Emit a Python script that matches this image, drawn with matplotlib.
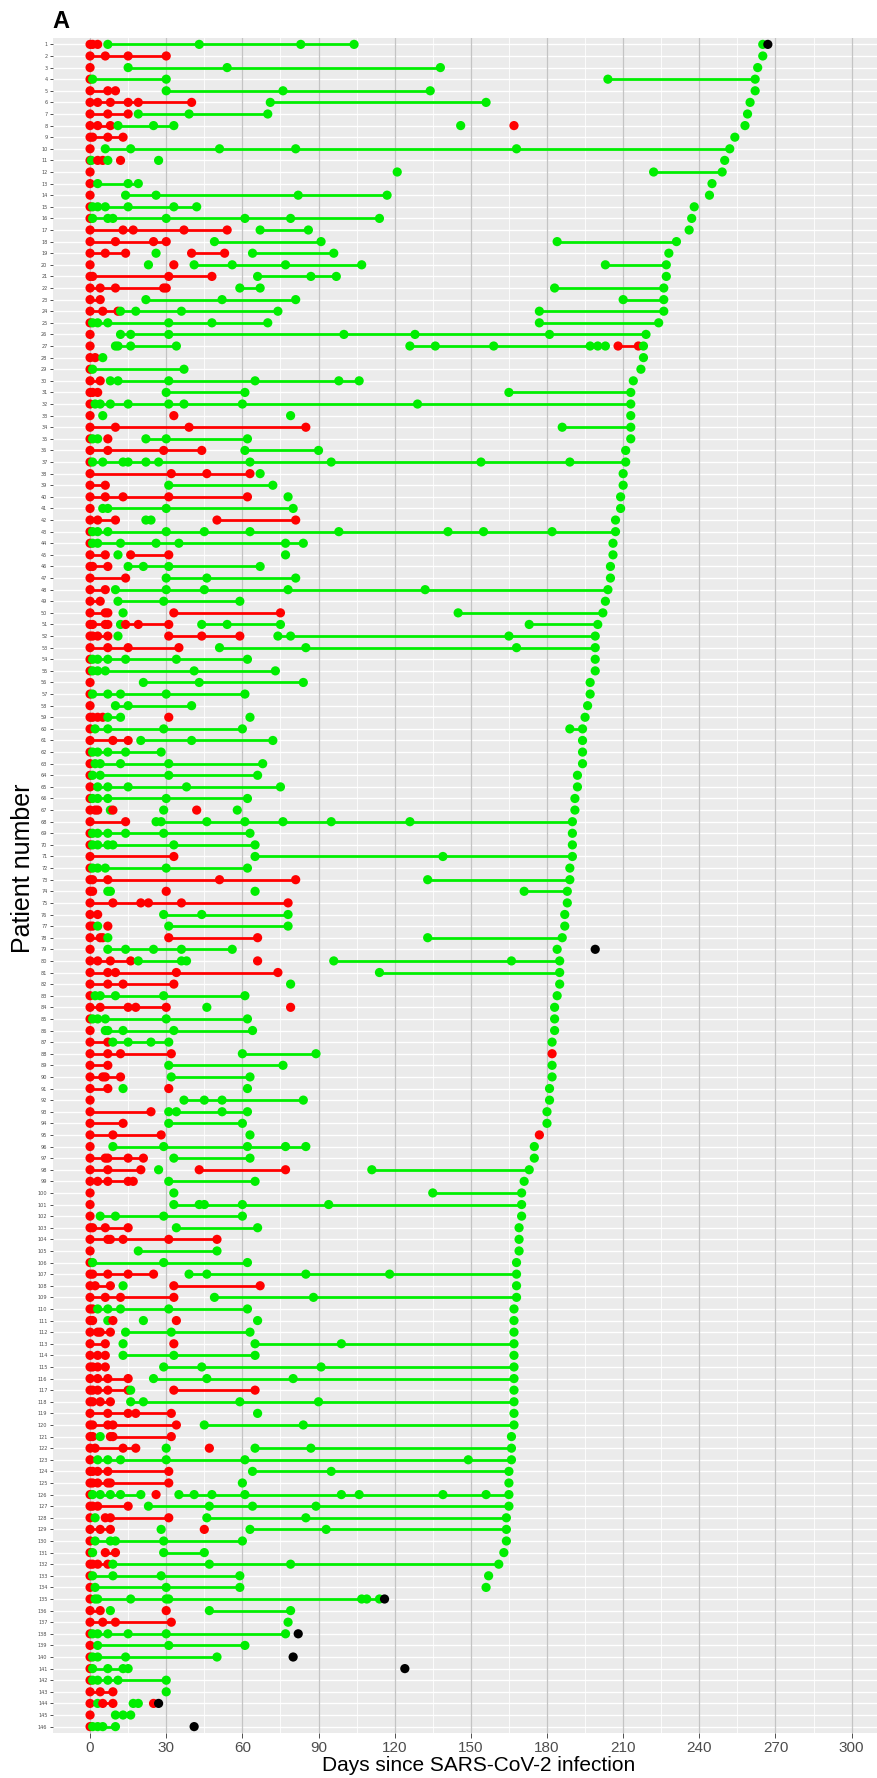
import matplotlib
matplotlib.use("Agg")
import matplotlib.pyplot as plt
import numpy as np

patients = list(range(1, 147))

test_days = [
    [0,1,3,7,43,83,104,265,267],
    [0,6,15,30,265],
    [0,15,54,138,263],
    [0,1,30,204,262],
    [0,7,10,30,76,134,262],
    [0,3,8,15,19,40,71,156,260],
    [0,7,15,19,39,70,259],
    [0,3,8,11,25,33,146,167,258],
    [0,1,7,13,254],
    [0,6,16,51,81,168,252],
    [0,0.5,3,5,7,12,27,250],
    [0,121,222,249],
    [0,3,15,19,245],
    [0,14,26,82,117,244],
    [0,1,3,6,15,33,42,238],
    [0,1,7,9,30,61,79,114,237],
    [0,13,17,37,54,67,86,236],
    [0,10,25,30,49,91,184,231],
    [0,6,14,26,40,53,64,96,228],
    [0,23,33,41,56,77,107,203,227],
    [0,1,31,48,66,87,97,227],
    [0,4,10,29,30,59,67,183,226],
    [0,4,22,52,81,210,226],
    [0,5,11,12,18,36,74,177,226],
    [0,1,3,7,31,48,70,177,224],
    [0,12,16,31,100,128,181,219],
    [0,10,11,16,34,126,136,159,197,200,203,208,216,218],
    [0,2,5,218],
    [0,1,37,217],
    [0,4,8,11,31,65,98,106,214],
    [0,1,3,30,61,165,213],
    [0,2,4,8,15,31,37,60,129,213],
    [0,5,33,79,213],
    [0,10,39,85,186,213],
    [0,1,3,7,22,30,62,213],
    [0,7,29,44,61,90,211],
    [0,1,5,13,15,22,27,63,95,154,189,211],
    [0,32,46,63,67,210],
    [0,6,31,72,210],
    [0,6,13,31,62,78,209],
    [0,5,7,30,80,209],
    [0,3,10,22,24,50,81,207],
    [0,1,3,7,30,45,63,98,141,155,182,207],
    [0,1,3,12,26,35,77,84,206],
    [0,6,11,16,31,77,206],
    [0,1,7,15,21,31,67,205],
    [0,14,30,46,81,205],
    [0,6,10,30,45,78,132,204],
    [0,4,11,29,59,203],
    [0,6,7,13,33,75,145,202],
    [0,1,6,7,12,14,19,31,44,54,75,173,200],
    [0,1,3,7,11,31,44,59,74,79,165,199],
    [0,7,15,35,51,85,168,199],
    [0,1,3,7,14,34,62,199],
    [0,1,3,6,41,73,199],
    [0,21,43,84,197],
    [0,1,7,12,30,61,197],
    [0,10,15,40,196],
    [0,1,3,5,7,12,31,63,195],
    [0,2,7,29,60,189,194],
    [0,9,15,20,40,72,194],
    [0,1,3,7,14,28,194],
    [0,2,4,12,31,68,194],
    [0,1,4,31,66,192],
    [0,3,7,15,38,75,192],
    [0,1,3,7,30,62,191],
    [0,2,3,8,9,29,42,58,191],
    [0,14,26,28,46,61,76,95,126,190],
    [0,1,3,7,14,29,63,190],
    [0,1,3,7,9,33,65,190],
    [0,33,65,139,190],
    [0,1,3,6,30,62,189],
    [0,1,7,51,81,133,189],
    [0,1,7,8,30,65,171,188],
    [0,9,20,23,36,78,188],
    [0,3,29,44,78,187],
    [0,1,3,7,31,78,187],
    [0,4,5,7,31,66,133,186],
    [0,7,14,25,36,56,184,199],
    [0,3,8,16,19,36,38,66,96,166,185],
    [0,7,10,34,74,114,185],
    [0,7,13,33,79,185],
    [0,2,4,10,29,61,184],
    [0,4,15,18,30,46,79,183],
    [0,1,3,6,30,62,183],
    [0,6,7,13,33,64,183],
    [0,7,9,15,24,31,182],
    [0,7,12,32,60,89,182],
    [0,7,31,76,182],
    [0,5,6,12,32,63,182],
    [0,7,13,31,62,181],
    [0,37,45,52,84,181],
    [0,24,31,34,52,62,180],
    [0,13,31,60,180],
    [0,9,28,63,177],
    [0,9,29,62,77,85,175],
    [0,6,7,15,21,33,63,175],
    [0,7,20,27,43,77,111,173],
    [0,3,7,15,17,31,65,171],
    [0,33,135,170],
    [0,33,43,45,60,94,170],
    [0,4,10,29,60,170],
    [0,1,6,15,34,66,169],
    [0,7,8,13,31,50,169],
    [0,19,50,169],
    [0,1,29,62,168],
    [0,1,7,15,25,39,46,85,118,168],
    [0,2,8,13,33,67,168],
    [0,6,12,33,49,88,168],
    [0,1,3,7,12,31,62,167],
    [0,1,7,9,21,34,66,167],
    [0,3,4,8,14,32,63,167],
    [0,6,13,33,65,99,167],
    [0,3,6,13,33,65,167],
    [0,1,3,6,29,44,91,167],
    [0,3,7,15,25,46,80,167],
    [0,1,3,7,15,16,33,65,167],
    [0,1,4,8,16,21,59,90,167],
    [0,7,15,18,32,66,167],
    [0,1,7,9,34,45,84,167],
    [0,1,4,8,9,32,166],
    [0,2,13,18,30,47,65,87,166],
    [0,3,7,12,30,61,149,166],
    [0,1,3,7,31,64,95,165],
    [0,1,3,7,8,31,60,165],
    [0,1,4,8,12,20,26,35,41,48,61,99,106,139,156,165],
    [0,1,3,15,23,47,64,89,165],
    [0,2,6,8,31,46,85,164],
    [0,4,8,28,45,63,93,164],
    [0,2,8,10,29,60,164],
    [0,1,6,10,29,45,163],
    [0,1,3,7,9,47,79,161],
    [0,1,9,28,59,157],
    [0,2,30,59,156],
    [0,2,3,16,30,31,107,109,114,116],
    [0,4,8,30,47,79],
    [0,5,10,32,78],
    [0,1,3,7,15,30,77,82],
    [0,3,31,61],
    [0,1,3,14,50,80],
    [0,1,7,13,15,124],
    [0,1,3,7,11,30],
    [0,4,9,30],
    [0,3,5,9,17,19,25,27],
    [0,10,13,16],
    [0,1,3,5,10,41],
]

# R = PCR positive, G = negative, K = death / last contact
test_results = [
    "RRRGGGGGK", "RRRRG", "RGGGG", "RGGGG", "RRRGGGG", "RRRRRRGGG", "RRRGGGG",
    "RRRGGGGRG", "RRRRG", "RGGGGGG", "RGRRGRGG", "RGGG", "RGGGG", "RGGGGG",
    "RGGGGGGG", "RGGGGGGGG", "RRRRRGGG", "RRRRGGGG", "RRRGRRGGG", "RGRGGGGGG",
    "RRRRGGGG", "RRRRRGGGG", "RRGGGGG", "RRRGGGGGG", "RGGGGGGGG", "RGGGGGGG",
    "RGGGGGGGGGGRRG", "RRGG", "RGGG", "RRGGGGGGG", "RRRGGGG", "RGGGGGGGGG",
    "RGRGG", "RRRRGG", "RGGRGGGG", "RRRRGGG", "RGGGGGGGGGGG", "RRRRGG", "RRGGG",
    "RRRRRGG", "RGGGGG", "RRRGGRRG", "RGGGGGGGGGGG", "RGGGGGGGG", "RRGRRGG",
    "RRRGGGGG", "RRGGGG", "RRGGGGGG", "RRGGGG", "RRRGRRGG", "RRRRGRRRGGGGG",
    "RRRRGRRRGGGG", "RRRRGGGG", "RGGGGGGG", "RGGGGGG", "RGGGG", "RGGGGGG",
    "RGGGG", "RRRRGGRGG", "RGGGGGG", "RRRGGGG", "RGGGGGG", "RGGGGGG", "RGGGGG",
    "RGGGGGG", "RGGGGGG", "RRRGRGRGG", "RRGGGGGGGG", "RGGGGGGG", "RGGGGGGG",
    "RRGGG", "RGGGGGG", "RRRRRGG", "RRGGRGGG", "RRRRRRG", "RRGGGG", "RRGRGGG",
    "RRRGRRGG", "RGGGGGGK", "RRRRGGGRGGG", "RRRRRGG", "RRRRGG", "RGGGGGG",
    "RRRRRGRG", "RGGGGGG", "RGGGGGG", "RRGGGGG", "RRRRGGR", "RRGGG", "RRRRGGG",
    "RRGRGG", "RGGGGG", "RRGGGGG", "RRGGG", "RRRGR", "RGGGGGG", "RRRRRGGG",
    "RRRGRRGG", "RRRRRGGG", "RGGG", "RGGGGGG", "RGGGGG", "RRRRGGG", "RRRRRRG",
    "RGGG", "RGGGG", "RRRRRGGGGG", "RRRGRRG", "RRRRGGG", "RRGGGGGG", "RRGRGRGG",
    "RRRRGGGG", "RRGRGGG", "RRRGGGG", "RRRRGGGG", "RRRRGGGG", "RRRRRGRRG",
    "RRRRGGGGG", "RRRRRGG", "RRRRRGGG", "RRGRRRG", "RRRRGRGGG", "RGGGGGGG",
    "RRRRRGGG", "RRRRRRGG", "RGGGGGRGGGGGGGGG", "RRRRGGGGG", "RGRRRGGG",
    "RRRGRGGG", "RGGGGGG", "RGRRGGG", "RRRRGGGG", "RGGGGG", "RGGGG",
    "RGGGGGGGGK", "RRGRGG", "RRRRG", "RGGGGGGK", "RGGG", "RGGGGK", "RGGGGK",
    "RGGGGG", "RRRG", "RGRRGGRK", "RGGG", "RGGGGK",
]

x_ticks = [0, 30, 60, 90, 120, 150, 180, 210, 240, 270, 300]

colors = {"R": "#FF0000", "G": "#00EE00", "K": "#000000"}
max_gap = 89  # consecutive same-result tests further apart are not joined

W, H = 877, 1778
fig = plt.figure(figsize=(W / 100, H / 100), dpi=100)
ax = fig.add_axes([53 / W, 1 - 1733 / H, 1 - 53 / W, (1733 - 38) / H])
ax.set_facecolor("#EBEBEB")
for s in ax.spines.values():
    s.set_visible(False)

ax.set_xlim(-14.6, 310)
ax.set_ylim(len(patients) + 0.55, 0.45)

# grid
for xm in np.arange(15, 310, 30):
    ax.axvline(xm, color="white", lw=0.6, zorder=0)
for p in patients:
    ax.axhline(p, color="white", lw=1.0, zorder=0)
for xt in x_ticks:
    ax.axvline(xt, color="#C4C4C4", lw=0.9, zorder=0.5)

# lines
for p, days, res in zip(patients, test_days, test_results):
    for i in range(len(days) - 1):
        a, b = res[i], res[i + 1]
        if a == b and a in "RG" and days[i + 1] - days[i] <= max_gap:
            ax.plot([days[i], days[i + 1]], [p, p], color=colors[a],
                    lw=2.0, solid_capstyle="butt", zorder=2)

# points
for p, days, res in zip(patients, test_days, test_results):
    for d, r in zip(days, res):
        ax.scatter([d], [p], s=44, color=colors[r], edgecolors="none", zorder=3)

ax.set_xticks(x_ticks)
ax.set_xticklabels([str(t) for t in x_ticks], fontsize=11, color="#4D4D4D",
                   family="Liberation Sans")
ax.set_yticks(patients)
ax.set_yticklabels([str(p) for p in patients], fontsize=3.6, color="#4D4D4D")
ax.tick_params(axis="both", colors="#333333", length=2.5, width=0.6)
ax.tick_params(axis="x", length=3.5, labelcolor="#4D4D4D", pad=2)
ax.tick_params(axis="y", labelcolor="#4D4D4D", pad=1.5)

ax.set_xlabel("Days since SARS-CoV-2 infection", fontsize=15,
              family="Liberation Sans")
ax.xaxis.set_label_coords(0.516, -0.0135)
ax.xaxis.label.set_va("top")
ax.set_ylabel("Patient number", fontsize=18, family="Liberation Sans")
ax.yaxis.set_label_coords(-0.022, 0.51)

fig.text(52 / W, 1 - 22 / H, "A", fontsize=17, fontweight="bold",
         family="Liberation Sans", va="center", ha="left")

fig.savefig("out.png", dpi=100)
